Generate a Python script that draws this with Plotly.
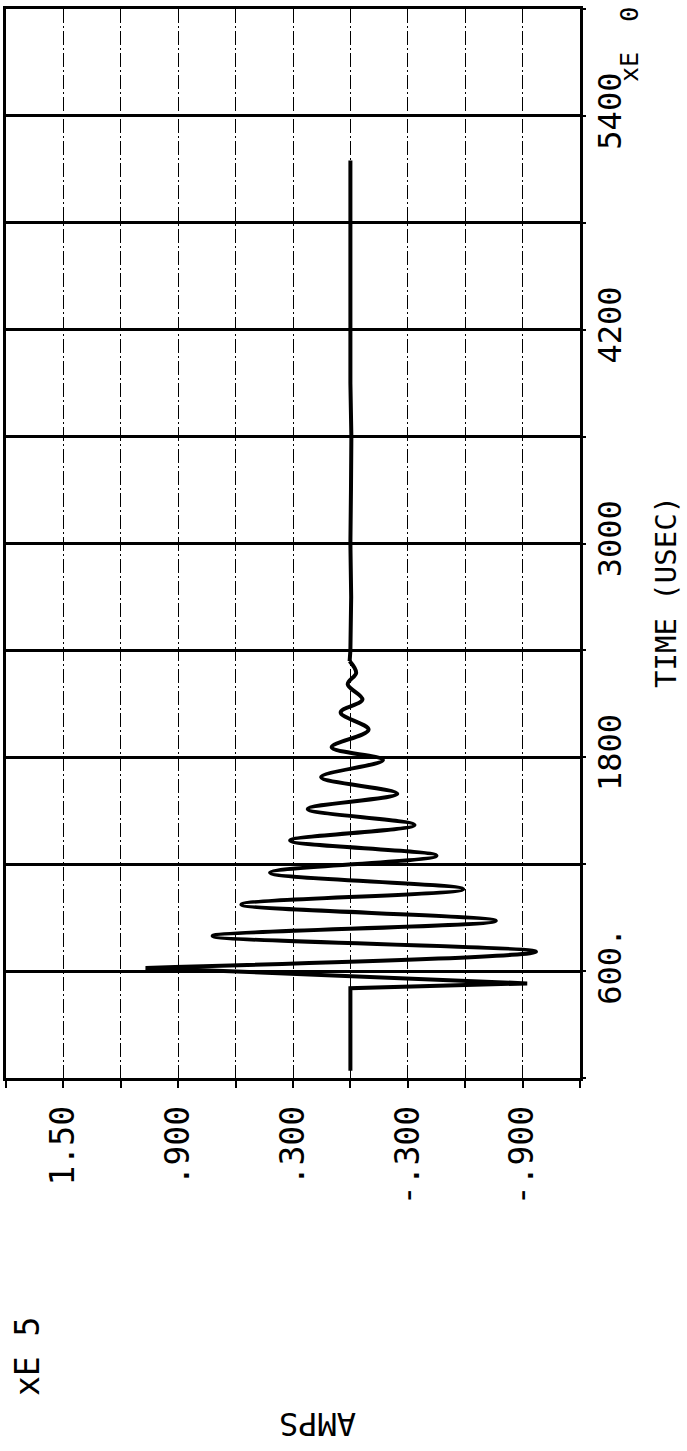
import plotly.graph_objects as go

# ---- data (time in microseconds, current in units of 1E5 A) ----
step_time = [40, 250, 504, 531, 618]
step_amps = [0.0, 0.0, 0.0, -0.924, 1.07]

ring_time = [618, 709, 797, 882, 974, 1060, 1152, 1248, 1333, 1420,
             1510, 1596, 1689, 1785, 1856, 1955, 2052, 2124, 2210, 2274, 2340]
ring_amps = [1.07, -0.97, 0.72, -0.76, 0.57, -0.59, 0.42, -0.45, 0.315, -0.335,
             0.223, -0.245, 0.153, -0.17, 0.098, -0.095, 0.051, -0.063, 0.014, -0.03, 0.004]

tail_time = [2340, 2400, 2700, 3000, 3300, 3600, 3900, 4200, 4500, 4800, 5150]
tail_amps = [0.004, 0.0, -0.004, 0.0, -0.003, -0.005, 0.0, 0.0, -0.004, 0.0, 0.0]

amp_grid = [1.8, 1.5, 1.2, 0.9, 0.6, 0.3, 0.0, -0.3, -0.6, -0.9, -1.2]
amp_labels = ["", "1.50", "", ".900", "", ".300", "", "-.300", "", "-.900", ""]

time_grid = [0, 600, 1200, 1800, 2400, 3000, 3600, 4200, 4800, 5400, 6000]
time_labels = ["", "600.", "", "1800", "", "3000", "", "4200", "", "5400", ""]

FONT = "DejaVu Sans Mono"
INK = "#000000"

fig = go.Figure()
fig.add_trace(go.Scatter(x=step_amps, y=step_time, mode="lines",
                         line=dict(color=INK, width=4), hoverinfo="skip"))
fig.add_trace(go.Scatter(x=ring_amps, y=ring_time, mode="lines",
                         line=dict(color=INK, width=4, shape="spline", smoothing=1.0),
                         hoverinfo="skip"))
fig.add_trace(go.Scatter(x=tail_amps, y=tail_time, mode="lines",
                         line=dict(color=INK, width=4), hoverinfo="skip"))

fig.update_layout(
    width=687, height=1451, autosize=False,
    margin=dict(l=6, r=107, t=9, b=373, autoexpand=False),
    paper_bgcolor="white", plot_bgcolor="white",
    showlegend=False,
    font=dict(family=FONT, color=INK, size=32),
)

fig.update_xaxes(
    range=[1.8, -1.2], tickmode="array", tickvals=amp_grid, ticktext=amp_labels,
    tickangle=-90, tickfont=dict(family=FONT, size=33, color=INK),
    ticks="outside", ticklen=7, tickwidth=2, tickcolor=INK,
    ticklabelstandoff=5, automargin=False,
    showgrid=True, gridcolor=INK, gridwidth=1.2, griddash="14px,3px,2px,3px",
    showline=True, linecolor=INK, linewidth=2.5, mirror=True, zeroline=False,
)
fig.update_yaxes(
    range=[0, 6000], side="right", tickmode="array", tickvals=time_grid, ticktext=time_labels,
    tickangle=-90, tickfont=dict(family=FONT, size=32, color=INK),
    ticks="outside", ticklen=3, tickwidth=2, tickcolor=INK,
    ticklabelstandoff=-3, automargin=False,
    showgrid=True, gridcolor=INK, gridwidth=2.5,
    showline=True, linecolor=INK, linewidth=2.5, mirror=True, zeroline=False,
)

ann = dict(xref="paper", yref="paper", showarrow=False, xanchor="center", yanchor="middle")
fig.add_annotation(text="TIME (USEC)", x=(666 - 6) / 574, y=(1078 - 592) / 1069,
                   textangle=-90, font=dict(family=FONT, size=29, color=INK), **ann)
fig.add_annotation(text="AMPS", x=(318 - 6) / 574, y=(1078 - 1424) / 1069,
                   textangle=180, font=dict(family=FONT, size=32, color=INK), **ann)
fig.add_annotation(text="xE 5", x=(27 - 6) / 574, y=(1078 - 1357) / 1069,
                   textangle=-90, font=dict(family=FONT, size=33, color=INK), **ann)
fig.add_annotation(text="xE  0", x=(630 - 6) / 574, y=(1078 - 45) / 1069,
                   textangle=-90, font=dict(family=FONT, size=25, color=INK), **ann)

fig.write_html(
    "out.html",
    config={"displayModeBar": False},
    post_script="document.body.style.margin='0';document.body.style.overflow='hidden';",
)
